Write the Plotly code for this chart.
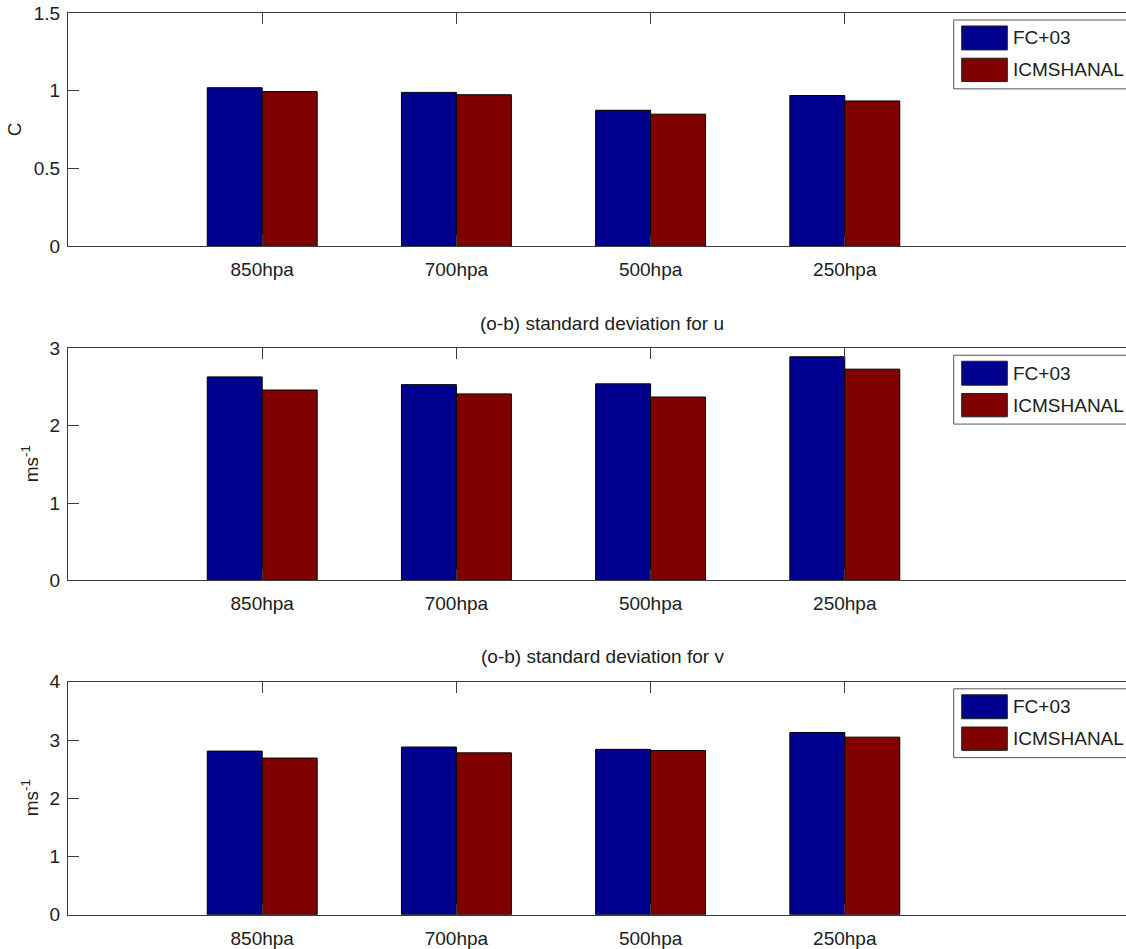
import plotly.graph_objects as go

# Pressure levels and series
levels = ["850hpa", "700hpa", "500hpa", "250hpa"]
level_pos = [1, 2, 3, 4]
series_names = ["FC+03", "ICMSHANAL"]

# Panel 1: temperature (C)
fc_t = [1.02, 0.99, 0.875, 0.97]
an_t = [0.995, 0.975, 0.85, 0.935]
# Panel 2: (o-b) std for u
fc_u = [2.63, 2.53, 2.54, 2.89]
an_u = [2.46, 2.41, 2.37, 2.73]
# Panel 3: (o-b) std for v
fc_v = [2.81, 2.88, 2.84, 3.13]
an_v = [2.69, 2.78, 2.82, 3.05]

y_ticks = [[0, 0.5, 1, 1.5], [0, 1, 2, 3], [0, 1, 2, 3, 4]]
y_ticktext = [["0", "0.5", "1", "1.5"], ["0", "1", "2", "3"], ["0", "1", "2", "3", "4"]]
y_ranges = [[0, 1.5], [0, 3], [0, 4]]
y_titles = ["C", "ms<sup>-1</sup>", "ms<sup>-1</sup>"]
panel_titles = [None, "(o-b) standard deviation for u", "(o-b) standard deviation for v"]

BLUE = "rgb(0,0,143)"
RED = "rgb(128,0,0)"
AXIS = "#3c3c3c"
TEXT = "#202020"
FONT = "Liberation Sans, Arial, sans-serif"
FS = 19

W, H = 1126, 949
ML, MR, MT, MB = 68, 0, 13, 32
PW, PH = W - ML - MR, H - MT - MB

# axes top/bottom in pixels for the three panels
panel_px = [(13, 247), (349, 581.7), (683.3, 916.7)]


def py2paper(py):
    return (H - MB - py) / PH


def px2paper(px):
    return (px - ML) / PW


fig = go.Figure()
data = [(fc_t, an_t), (fc_u, an_u), (fc_v, an_v)]
for i, (fc, an) in enumerate(data):
    sfx = "" if i == 0 else str(i + 1)
    for vals, name, col in ((fc, series_names[0], BLUE), (an, series_names[1], RED)):
        fig.add_trace(go.Bar(
            x=level_pos, y=vals, name=name, showlegend=False,
            marker=dict(color=col, line=dict(color="black", width=1)),
            xaxis="x" + sfx, yaxis="y" + sfx,
        ))

layout = dict(
    width=W, height=H,
    margin=dict(l=ML, r=MR, t=MT, b=MB),
    paper_bgcolor="white", plot_bgcolor="white",
    barmode="group", bargap=0.434, bargroupgap=0,
    font=dict(family=FONT, size=FS, color=TEXT),
    showlegend=False,
)

x_range = [0, PW / 194.2]
shapes = []
annotations = []
for i in range(3):
    sfx = "" if i == 0 else str(i + 1)
    top, bot = panel_px[i]
    dom = [py2paper(bot), py2paper(top)]
    layout["xaxis" + sfx] = dict(
        domain=[0, 1], range=x_range, anchor="y" + sfx,
        tickmode="array", tickvals=level_pos, ticktext=levels,
        ticks="inside", ticklen=11, tickcolor=AXIS, tickwidth=1,
        showline=True, linecolor=AXIS, linewidth=1, mirror="ticks",
        showgrid=False, zeroline=False, fixedrange=True,
        tickfont=dict(family=FONT, size=FS, color=TEXT),
        ticklabelstandoff=6,
    )
    layout["yaxis" + sfx] = dict(
        domain=dom, range=y_ranges[i], anchor="x" + sfx,
        tickmode="array", tickvals=y_ticks[i], ticktext=y_ticktext[i],
        ticks="inside", ticklen=11, tickcolor=AXIS, tickwidth=1,
        showline=True, linecolor=AXIS, linewidth=1, mirror=False,
        showgrid=False, zeroline=False, fixedrange=True,
        tickfont=dict(family=FONT, size=FS, color=TEXT),
        ticklabelstandoff=3,
    )
    # y-axis label
    annotations.append(dict(
        text=y_titles[i], xref="paper", yref="paper",
        x=px2paper(14.5 if i == 0 else 30), y=py2paper((top + bot) / 2),
        xanchor="center", yanchor="middle", textangle=-90, showarrow=False,
        font=dict(family=FONT, size=FS, color=TEXT),
    ))
    # panel title
    if panel_titles[i]:
        annotations.append(dict(
            text=panel_titles[i], xref="x" + sfx, yref="paper",
            x=2.75, y=py2paper(top - 25), xanchor="center", yanchor="middle",
            showarrow=False, font=dict(family=FONT, size=FS, color=TEXT),
        ))
    # legend box with patches
    shapes.append(dict(
        type="rect", xref="paper", yref="paper",
        x0=px2paper(953.7), x1=px2paper(1150),
        y0=py2paper(top + 76), y1=py2paper(top + 7),
        line=dict(color="#555555", width=1), fillcolor="white", layer="above",
    ))
    for (y0, y1, col, name) in ((top + 13, top + 37, BLUE, series_names[0]),
                                (top + 45.3, top + 68.7, RED, series_names[1])):
        shapes.append(dict(
            type="rect", xref="paper", yref="paper",
            x0=px2paper(961.7), x1=px2paper(1007.3),
            y0=py2paper(y1), y1=py2paper(y0),
            line=dict(color="#202020", width=1), fillcolor=col, layer="above",
        ))
        annotations.append(dict(
            text=name, xref="paper", yref="paper",
            x=px2paper(1010.5), y=py2paper((y0 + y1) / 2),
            xanchor="left", yanchor="middle", showarrow=False,
            font=dict(family=FONT, size=FS, color=TEXT),
        ))

layout["shapes"] = shapes
layout["annotations"] = annotations
fig.update_layout(**layout)
fig.write_html("out.html", config={"displayModeBar": False})
